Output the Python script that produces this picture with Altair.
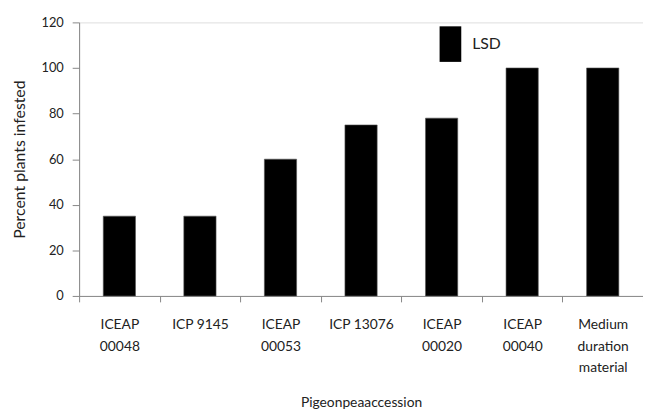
import altair as alt
import pandas as pd

categories = ["ICEAP\n00048", "ICP 9145", "ICEAP\n00053", "ICP 13076",
              "ICEAP\n00020", "ICEAP\n00040", "Medium\nduration\nmaterial"]
values = [35, 35, 60, 75, 78, 100, 100]
series = ["LSD"] * len(categories)
y_ticks = [0, 20, 40, 60, 80, 100, 120]

df = pd.DataFrame({"accession": categories, "value": values, "series": series})

FONT = "Lato"
TXT = "#222222"
AX = "#868686"

chart = alt.Chart(df).mark_bar(
    stroke="#555555", strokeWidth=0.6, width=alt.RelativeBandSize(0.4)
).encode(
    x=alt.X(
        "accession:N",
        sort=categories,
        scale=alt.Scale(paddingInner=0, paddingOuter=0),
        axis=alt.Axis(
            title="Pigeonpeaaccession",
            labelExpr="split(datum.label, '\\n')",
            labelAngle=0,
            labelFont=FONT,
            labelFontSize=14,
            labelColor=TXT,
            labelLineHeight=22,
            labelPadding=16,
            tickBand="extent",
            tickSize=6,
            tickColor=AX,
            domainColor=AX,
            titleFont=FONT,
            titleFontSize=14,
            titleFontWeight="normal",
            titleColor=TXT,
            titlePadding=21,
        ),
    ),
    y=alt.Y(
        "value:Q",
        scale=alt.Scale(domain=[0, 120]),
        axis=alt.Axis(
            title="Percent plants infested",
            values=y_ticks,
            grid=False,
            labelFont=FONT,
            labelFontSize=13,
            labelColor=TXT,
            labelPadding=9,
            tickSize=7,
            tickColor=AX,
            domainColor=AX,
            titleFont=FONT,
            titleFontSize=16,
            titleFontWeight="normal",
            titleColor=TXT,
            titlePadding=14,
        ),
    ),
    color=alt.Color(
        "series:N",
        scale=alt.Scale(domain=["LSD"], range=["#000000"]),
        legend=alt.Legend(
            title=None,
            orient="none",
            legendX=358,
            legendY=4,
            padding=0,
            symbolType="M-0.61,-1H0.61V1H-0.61Z",
            symbolSize=1296,
            symbolStrokeWidth=0,
            labelFont=FONT,
            labelFontSize=16,
            labelColor=TXT,
        ),
    ),
).properties(
    width=571,
    height=277,
    autosize=alt.AutoSizeParams(type="none"),
    padding={"left": 72, "top": 12, "right": 0, "bottom": 118},
).configure_view(stroke=None).configure(background="white")

chart.save("out.html", embed_options={"renderer": "svg", "actions": False})
